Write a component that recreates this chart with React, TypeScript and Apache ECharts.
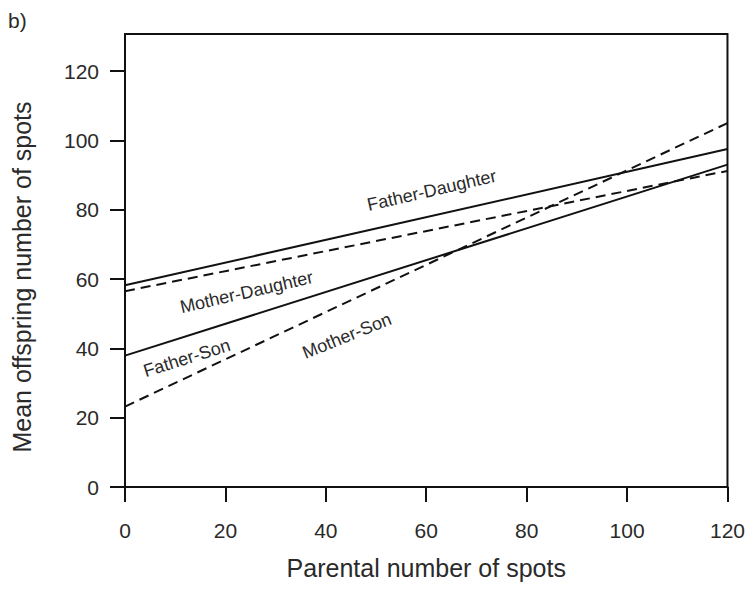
import React, { useEffect, useRef } from "react";
import * as echarts from "echarts";

const xValues = [0, 120];
const fatherDaughter = [58.2, 97.5];
const motherDaughter = [56.5, 91.2];
const fatherSon = [37.9, 93];
const motherSon = [23.2, 105];
const tickValues = [0, 20, 40, 60, 80, 100, 120];

const lineLabels = [
  { text: "Father-Daughter", x: 61.1, y: 85.6, angle: 13 },
  { text: "Mother-Daughter", x: 24.2, y: 56.2, angle: 13 },
  { text: "Father-Son", x: 12.3, y: 37.2, angle: 17.5 },
  { text: "Mother-Son", x: 44.2, y: 43.6, angle: 22 },
];

const FONT = "'Liberation Sans', Arial, Helvetica, sans-serif";
const INK = "#111";
const TEXT = "#2a2a2a";

function pairs(ys: number[]) {
  return xValues.map((x, i) => [x, ys[i]]);
}

export default function App() {
  const ref = useRef<HTMLDivElement>(null);
  useEffect(() => {
    if (!ref.current) return;
    const chart = echarts.init(ref.current, undefined, { renderer: "svg" });
    const lineSeries = (name: string, ys: number[], dashed: boolean) => ({
      name,
      type: "line",
      data: pairs(ys),
      symbol: "none",
      lineStyle: { color: INK, width: 2, type: dashed ? [10, 6] : "solid" },
      z: 3,
    });
    chart.setOption({
      animation: false,
      backgroundColor: "#fff",
      grid: {
        left: 125,
        right: 18,
        top: 34,
        bottom: 103,
        show: true,
        borderColor: INK,
        borderWidth: 2,
        backgroundColor: "transparent",
      },
      xAxis: {
        type: "value",
        min: 0,
        max: 120,
        interval: 20,
        name: "Parental number of spots",
        nameLocation: "middle",
        nameGap: 68,
        nameTextStyle: { fontFamily: FONT, fontSize: 25, color: TEXT },
        axisLine: { show: true, onZero: false, lineStyle: { color: INK, width: 2 } },
        axisTick: { show: true, length: 15, inside: false, lineStyle: { color: INK, width: 2 } },
        axisLabel: { fontFamily: FONT, fontSize: 21, color: TEXT, margin: 33 },
        splitLine: { show: false },
      },
      yAxis: {
        type: "value",
        min: 0,
        max: 130.7,
        axisLine: { show: true, onZero: false, lineStyle: { color: INK, width: 2 } },
        axisTick: {
          show: true,
          length: 15,
          customValues: tickValues,
          lineStyle: { color: INK, width: 2 },
        },
        axisLabel: {
          fontFamily: FONT,
          fontSize: 21,
          color: TEXT,
          margin: 26,
          customValues: tickValues,
        },
        splitLine: { show: false },
      },
      series: [
        lineSeries("Father-Daughter", fatherDaughter, false),
        lineSeries("Mother-Daughter", motherDaughter, true),
        lineSeries("Father-Son", fatherSon, false),
        lineSeries("Mother-Son", motherSon, true),
      ],
    });

    const labelGraphics = lineLabels.map((l) => {
      const p = chart.convertToPixel({ gridIndex: 0 }, [l.x, l.y]) as number[];
      return {
        type: "text",
        x: p[0],
        y: p[1],
        rotation: (l.angle * Math.PI) / 180,
        style: {
          text: l.text,
          fontFamily: FONT,
          fontSize: 18,
          fill: TEXT,
          align: "center",
          verticalAlign: "middle",
        },
        z: 10,
      };
    });

    chart.setOption({
      graphic: [
        ...labelGraphics,
        {
          type: "text",
          x: 22,
          y: 277,
          rotation: Math.PI / 2,
          style: {
            text: "Mean offspring number of spots",
            fontFamily: FONT,
            fontSize: 25,
            fill: TEXT,
            align: "center",
            verticalAlign: "middle",
          },
        },
        {
          type: "text",
          x: 8,
          y: 20,
          style: {
            text: "b)",
            fontFamily: FONT,
            fontSize: 21,
            fill: TEXT,
            align: "left",
            verticalAlign: "middle",
          },
        },
      ],
    });

    return () => chart.dispose();
  }, []);
  return (
    <div
      ref={ref}
      style={{ position: "fixed", left: 0, top: 0, width: 748, height: 590 }}
    />
  );
}
